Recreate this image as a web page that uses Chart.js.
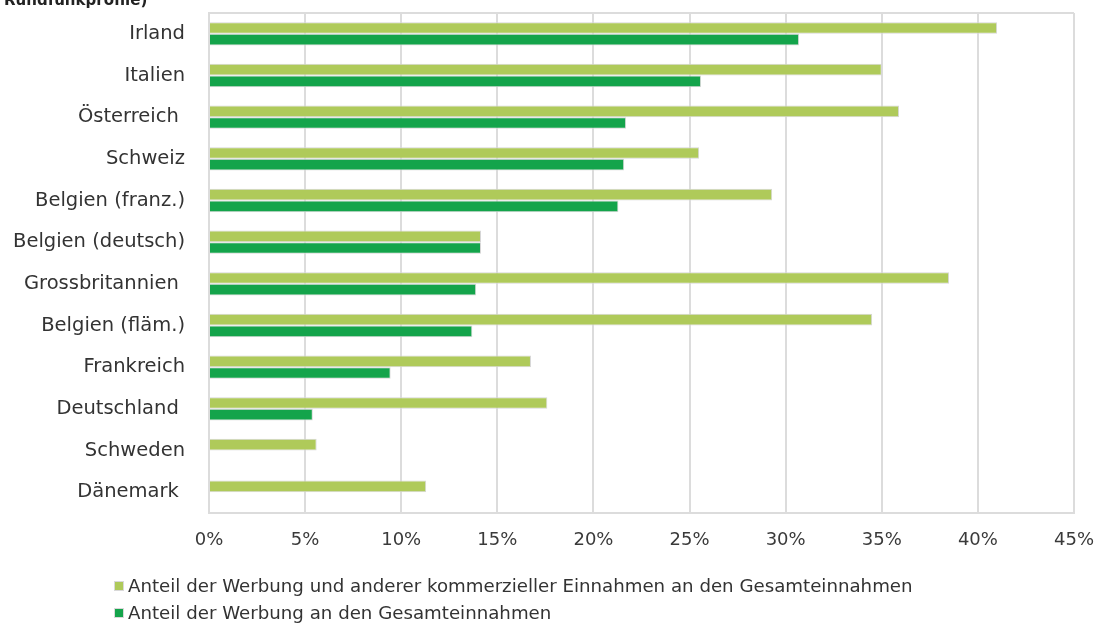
<!DOCTYPE html>
<html>
<head>
<meta charset="utf-8">
<script src="https://cdn.jsdelivr.net/npm/chart.js@4/dist/chart.umd.min.js"></script>
<style>
  html, body { margin: 0; padding: 0; background: #fff; }
  #wrap { position: relative; width: 1101px; height: 628px; overflow: hidden; font-family: "DejaVu Sans", sans-serif; }
  #cut-title { position: absolute; left: 4px; top: -9px; font-size: 15px; font-weight: bold; color: #222; }
  #legend { position: absolute; left: 114px; top: 572px; font-size: 18.2px; color: #333; }
  .lg-item { display: flex; align-items: center; height: 27px; }
  .lg-box { width: 8px; height: 8px; border: 1px solid #d9d9d9; margin-right: 4px; }
</style>
</head>
<body>
<div id="wrap">
  <canvas id="chart" width="1101" height="628"></canvas>
  <div id="cut-title">Rundfunkprofile)</div>
  <div id="legend"></div>
</div>
<script>
// Länder (von oben nach unten)
const countries = ['Irland', 'Italien', 'Österreich ', 'Schweiz', 'Belgien (franz.)', 'Belgien (deutsch)',
  'Grossbritannien ', 'Belgien (fläm.)', 'Frankreich', 'Deutschland ', 'Schweden', 'Dänemark '];

// Anteil der Werbung und anderer kommerzieller Einnahmen (%)
const commercialShare = [41.0, 35.0, 35.9, 25.5, 29.3, 14.15, 38.5, 34.5, 16.75, 17.6, 5.6, 11.3];
// Anteil der Werbung (%)
const adShare = [30.7, 25.6, 21.7, 21.6, 21.3, 14.15, 13.9, 13.7, 9.45, 5.4, null, null];

const xTicks = [0, 5, 10, 15, 20, 25, 30, 35, 40, 45];

const seriesNames = [
  'Anteil der Werbung und anderer kommerzieller Einnahmen an den Gesamteinnahmen',
  'Anteil der Werbung an den Gesamteinnahmen'
];

const lightGreen = '#afca5a';
const darkGreen = '#14a44b';
const gridColor = '#dcdcdc';

const chart = new Chart(document.getElementById('chart'), {
  type: 'bar',
  data: {
    labels: countries,
    datasets: [
      { label: seriesNames[0], data: commercialShare, backgroundColor: lightGreen, borderColor: '#d6d6d6', borderWidth: 1 },
      { label: seriesNames[1], data: adShare, backgroundColor: darkGreen, borderColor: '#d6d6d6', borderWidth: 1 }
    ]
  },
  options: {
    indexAxis: 'y',
    responsive: false,
    animation: false,
    layout: { padding: { top: 13, right: 27, left: 0, bottom: 0 } },
    datasets: { bar: { categoryPercentage: 0.56, barPercentage: 1 } },
    scales: {
      x: {
        min: 0,
        max: 45,
        afterBuildTicks: scale => { scale.ticks = xTicks.map(v => ({ value: v })); },
        afterFit: scale => { scale.height = 115; scale.paddingLeft = 0; scale.paddingRight = 0; },
        grid: { color: gridColor, lineWidth: 2, drawTicks: false },
        border: { display: true, color: gridColor, width: 2 },
        ticks: {
          padding: 17,
          color: '#3a3a3a',
          font: { family: 'DejaVu Sans', size: 18 },
          callback: v => v + '%'
        }
      },
      y: {
        afterFit: scale => { scale.width = 209; scale.paddingTop = 0; scale.paddingBottom = 0; },
        grid: {
          drawTicks: false,
          lineWidth: 2,
          color: ctx => (ctx.index === 0 ? gridColor : 'rgba(0,0,0,0)')
        },
        border: { display: true, color: gridColor, width: 2 },
        ticks: {
          padding: 24,
          color: '#333',
          font: { family: 'DejaVu Sans', size: 19.5 }
        }
      }
    },
    plugins: {
      legend: { display: false },
      tooltip: { enabled: false }
    }
  }
});

// Legende (untereinander, linksbündig)
const legendEl = document.getElementById('legend');
chart.data.datasets.forEach(ds => {
  const item = document.createElement('div');
  item.className = 'lg-item';
  item.innerHTML = `<span class="lg-box" style="background:${ds.backgroundColor}"></span><span>${ds.label}</span>`;
  legendEl.appendChild(item);
});
</script>
</body>
</html>
